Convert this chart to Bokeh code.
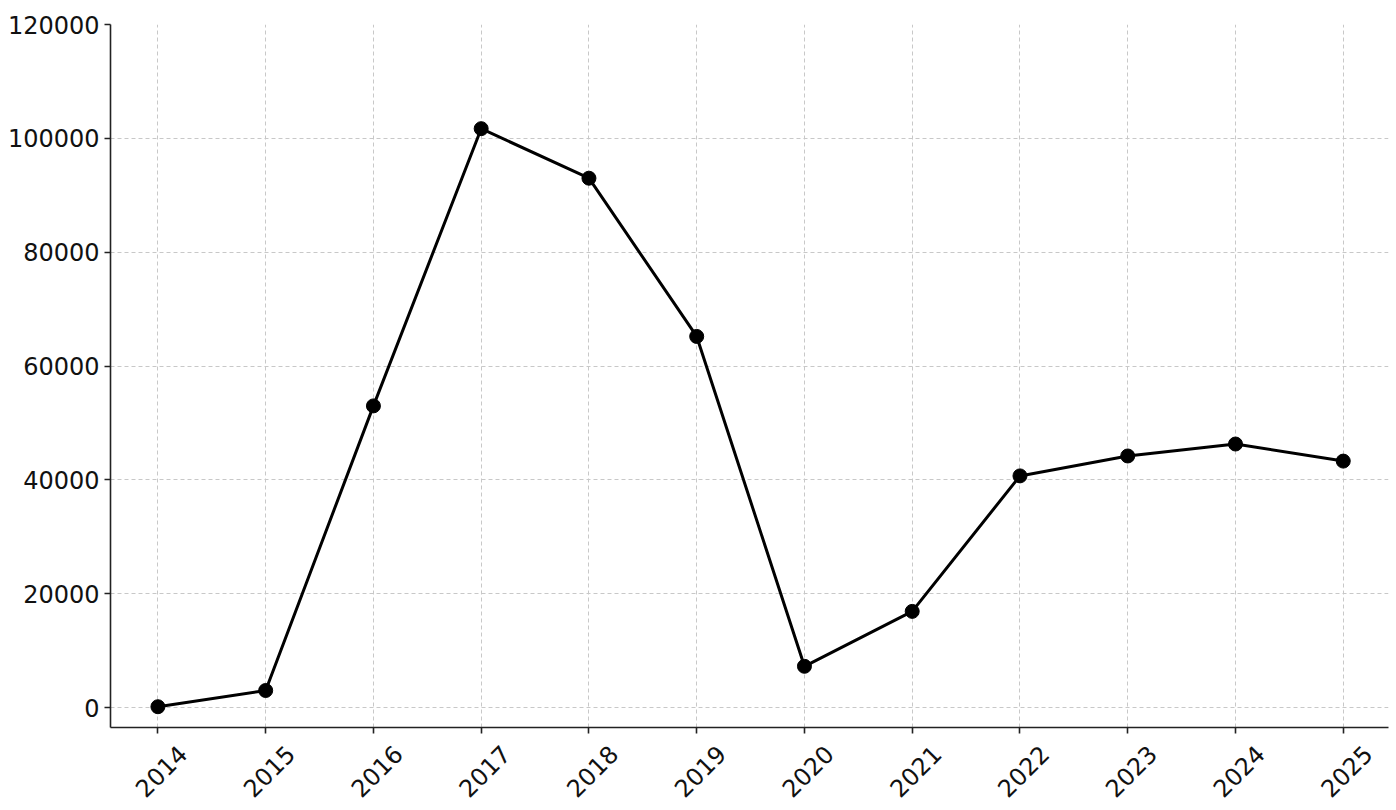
import math
from bokeh.plotting import figure
from bokeh.models import Range1d, FixedTicker, BasicTickFormatter, LinearAxis
from bokeh.embed import file_html
from bokeh.resources import INLINE

years = [2014, 2015, 2016, 2017, 2018, 2019, 2020, 2021, 2022, 2023, 2024, 2025]
values = [150, 3000, 53000, 101700, 93000, 65200, 7250, 16900, 40700, 44200, 46300, 43300]
y_ticks = [0, 20000, 40000, 60000, 80000, 100000, 120000]
year_labels = [str(y) for y in years]

y_min, y_max = -3500, 120000
x_min, x_max = 2013.56, 2025.42

p = figure(width=1396, height=810, output_backend="svg", toolbar_location=None,
           x_range=Range1d(x_min, x_max), y_range=Range1d(y_min, y_max),
           min_border_left=110, min_border_right=8, min_border_top=24, min_border_bottom=83)
p.background_fill_color = "white"
p.border_fill_color = "white"
p.outline_line_color = None

p.line(years, values, line_color="black", line_width=3)
p.scatter(years, values, size=14, fill_color="black", line_color="black")

font = "DejaVu Sans"
for ax in (p.xaxis[0], p.yaxis[0]):
    ax.axis_line_color = "#222222"
    ax.axis_line_width = 1.6
    ax.major_tick_line_color = "#222222"
    ax.major_tick_line_width = 1.6
    ax.major_tick_out = 6
    ax.major_tick_in = 0
    ax.minor_tick_line_color = None
    ax.major_label_text_font = font
    ax.major_label_text_font_size = "24px"
    ax.major_label_text_color = "#111111"

p.xaxis.ticker = FixedTicker(ticks=years)
p.xaxis.major_label_text_font_size = "0px"
p.xaxis.major_label_text_alpha = 0
p.xaxis.major_label_standoff = 0
p.yaxis.ticker = FixedTicker(ticks=y_ticks)
p.yaxis.formatter = BasicTickFormatter(use_scientific=False)
p.yaxis.major_label_standoff = 5

# rotated year labels, centred under each tick (matplotlib style)
shift = 0.23
label_pos = [yr + shift for yr in years]
lab_ax = LinearAxis(ticker=FixedTicker(ticks=label_pos),
                    major_label_overrides={pos: txt for pos, txt in zip(label_pos, year_labels)})
lab_ax.axis_line_color = None
lab_ax.major_tick_line_color = None
lab_ax.minor_tick_line_color = None
lab_ax.major_tick_out = 0
lab_ax.major_tick_in = 0
lab_ax.major_label_standoff = 16
lab_ax.major_label_orientation = math.pi / 4
lab_ax.major_label_text_font = font
lab_ax.major_label_text_font_size = "24px"
lab_ax.major_label_text_color = "#111111"
p.add_layout(lab_ax, "below")

for g in (p.xgrid[0], p.ygrid[0]):
    g.grid_line_color = "#c8c8c8"
    g.grid_line_dash = "4 3"
    g.grid_line_width = 1

open("out.html", "w").write(file_html(p, INLINE))
